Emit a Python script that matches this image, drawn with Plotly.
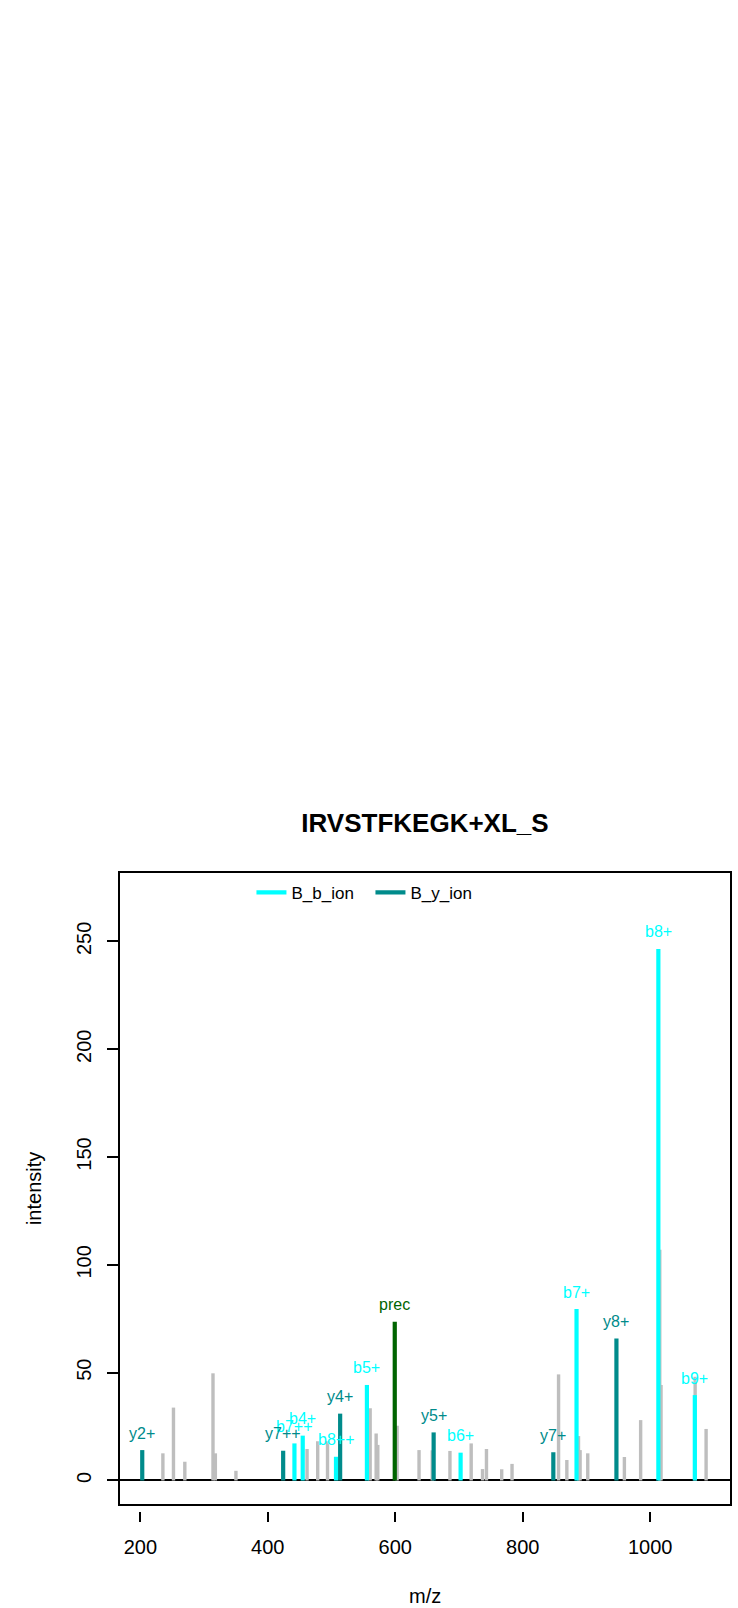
import plotly.graph_objects as go

# spectrum data
grey_mz = [235.4, 252, 269.8, 314, 317.7, 350, 461.6, 478.3, 493.7, 560.6, 570, 572.6,
           602.9, 637.3, 658, 685.8, 719.1, 736.9, 743.1, 767, 783.2, 856.2, 869.2,
           887.5, 890, 902, 959.5, 985, 1015, 1017, 1070.5, 1087.7]
grey_int = [12.6, 33.8, 8.7, 49.7, 12.6, 4.5, 14.6, 18.2, 18.2, 33.5, 21.8, 16.5,
            25.4, 14.1, 14, 13.7, 17.2, 5.3, 14.6, 5.2, 7.7, 49.2, 9.5,
            20.6, 14.1, 12.6, 10.9, 28, 107, 44.3, 48.1, 23.9]

b_labels = ['b7++', 'b4+', 'b8++', 'b5+', 'b6+', 'b7+', 'b8+', 'b9+']
b_mz = [441.8, 454.8, 507, 555.5, 702.5, 884.4, 1012.8, 1070]
b_int = [17.2, 20.8, 11, 44.3, 12.9, 79.5, 246.5, 39.6]

y_labels = ['y2+', 'y7++', 'y4+', 'y5+', 'y7+', 'y8+']
y_mz = [203, 424.1, 513.5, 660.2, 848, 947]
y_int = [14.1, 13.8, 31, 22.3, 13.1, 65.9]

prec_label = ['prec']
prec_mz = [599.2]
prec_int = [73.6]

x_ticks = [200, 400, 600, 800, 1000]
y_ticks = [0, 50, 100, 150, 200, 250]
x_range = [168.1, 1125.2]
y_range = [-10.9, 281.7]

GREY = '#BEBEBE'
CYAN = '#00FFFF'
TEAL = '#008B8B'
DKGREEN = '#006400'
FONT = 'Liberation Sans, Arial, sans-serif'


def sticks(mz, inten):
    xs, ys = [], []
    for m, i in zip(mz, inten):
        xs += [m, m, None]
        ys += [0, i, None]
    return xs, ys


fig = go.Figure()

# grey (unmatched) peaks go underneath on the box axis
gx, gy = sticks(grey_mz, grey_int)
fig.add_trace(go.Scatter(x=gx, y=gy, mode='lines',
                         line=dict(color=GREY, width=3.4),
                         showlegend=False, hoverinfo='skip'))

# matched peaks on the overlaying x2 axis (drawn on top, carries tick labels)
bx, by = sticks(b_mz, b_int)
fig.add_trace(go.Scatter(x=bx, y=by, xaxis='x2', mode='lines',
                         line=dict(color=CYAN, width=4.2), name='B_b_ion'))

yx, yy = sticks(y_mz, y_int)
fig.add_trace(go.Scatter(x=yx, y=yy, xaxis='x2', mode='lines',
                         line=dict(color=TEAL, width=4.2), name='B_y_ion'))

px, py = sticks(prec_mz, prec_int)
fig.add_trace(go.Scatter(x=px, y=py, xaxis='x2', mode='lines',
                         line=dict(color=DKGREEN, width=4.2), showlegend=False))

# peak labels
for labels, mz, inten, col in [(b_labels, b_mz, b_int, CYAN),
                               (y_labels, y_mz, y_int, TEAL),
                               (prec_label, prec_mz, prec_int, DKGREEN)]:
    for lab, m, i in zip(labels, mz, inten):
        fig.add_annotation(x=m, y=i, xref='x2', yref='y', text=lab, showarrow=False,
                           yanchor='middle', yshift=17,
                           font=dict(size=16, color=col, family=FONT))

# axis titles
fig.add_annotation(text='m/z', xref='paper', yref='paper', x=0.5, y=-0.1332,
                   showarrow=False, yanchor='middle', font=dict(size=20, color='black'))
fig.add_annotation(text='intensity', xref='paper', yref='paper', x=-0.14, y=0.5055,
                   textangle=-90, showarrow=False, xanchor='center', yanchor='middle',
                   font=dict(size=20, color='black'))

fig.update_layout(
    width=738, height=1608,
    margin=dict(l=120, r=6, t=873, b=97),
    paper_bgcolor='white', plot_bgcolor='white',
    font=dict(family=FONT, color='black'),
    title=dict(text='<b>IRVSTFKEGK+XL_S</b>', x=0.5, xref='paper', xanchor='center',
               y=1 - 823 / 1608, yanchor='middle', font=dict(size=26, color='black')),
    showlegend=True,
    legend=dict(orientation='h', x=0.2155, y=0.969, xanchor='left', yanchor='middle',
                bgcolor='rgba(0,0,0,0)', font=dict(size=17, color='black'),
                entrywidth=74, entrywidthmode='pixels', itemwidth=30),
    xaxis=dict(range=x_range, showline=True, mirror=True, linecolor='black', linewidth=1.5,
               ticks='', showticklabels=False, showgrid=False, zeroline=False),
    xaxis2=dict(range=x_range, overlaying='x', anchor='free', position=0, side='bottom',
                showline=False, ticks='outside', ticklen=10, tickwidth=1.5, tickcolor='black',
                tickvals=x_ticks, ticktext=[str(v) for v in x_ticks],
                tickfont=dict(size=20, color='black'), ticklabelstandoff=8,
                showgrid=False, zeroline=False),
    yaxis=dict(range=y_range, domain=[7 / 638, 1], showline=True, mirror=True,
               linecolor='black', linewidth=1.5, ticks='outside', ticklen=11, tickwidth=1.5,
               tickcolor='black', tickvals=y_ticks, ticktext=[str(v) for v in y_ticks],
               tickangle=-90, tickfont=dict(size=20, color='black'), ticklabelstandoff=8,
               showgrid=False, zeroline=True, zerolinecolor='black', zerolinewidth=1.5),
)

# drop the page's default body margin so the figure sits at the window's corner
fig.write_html('out.html', config={'displayModeBar': False},
               post_script="document.body.style.margin='0';")
